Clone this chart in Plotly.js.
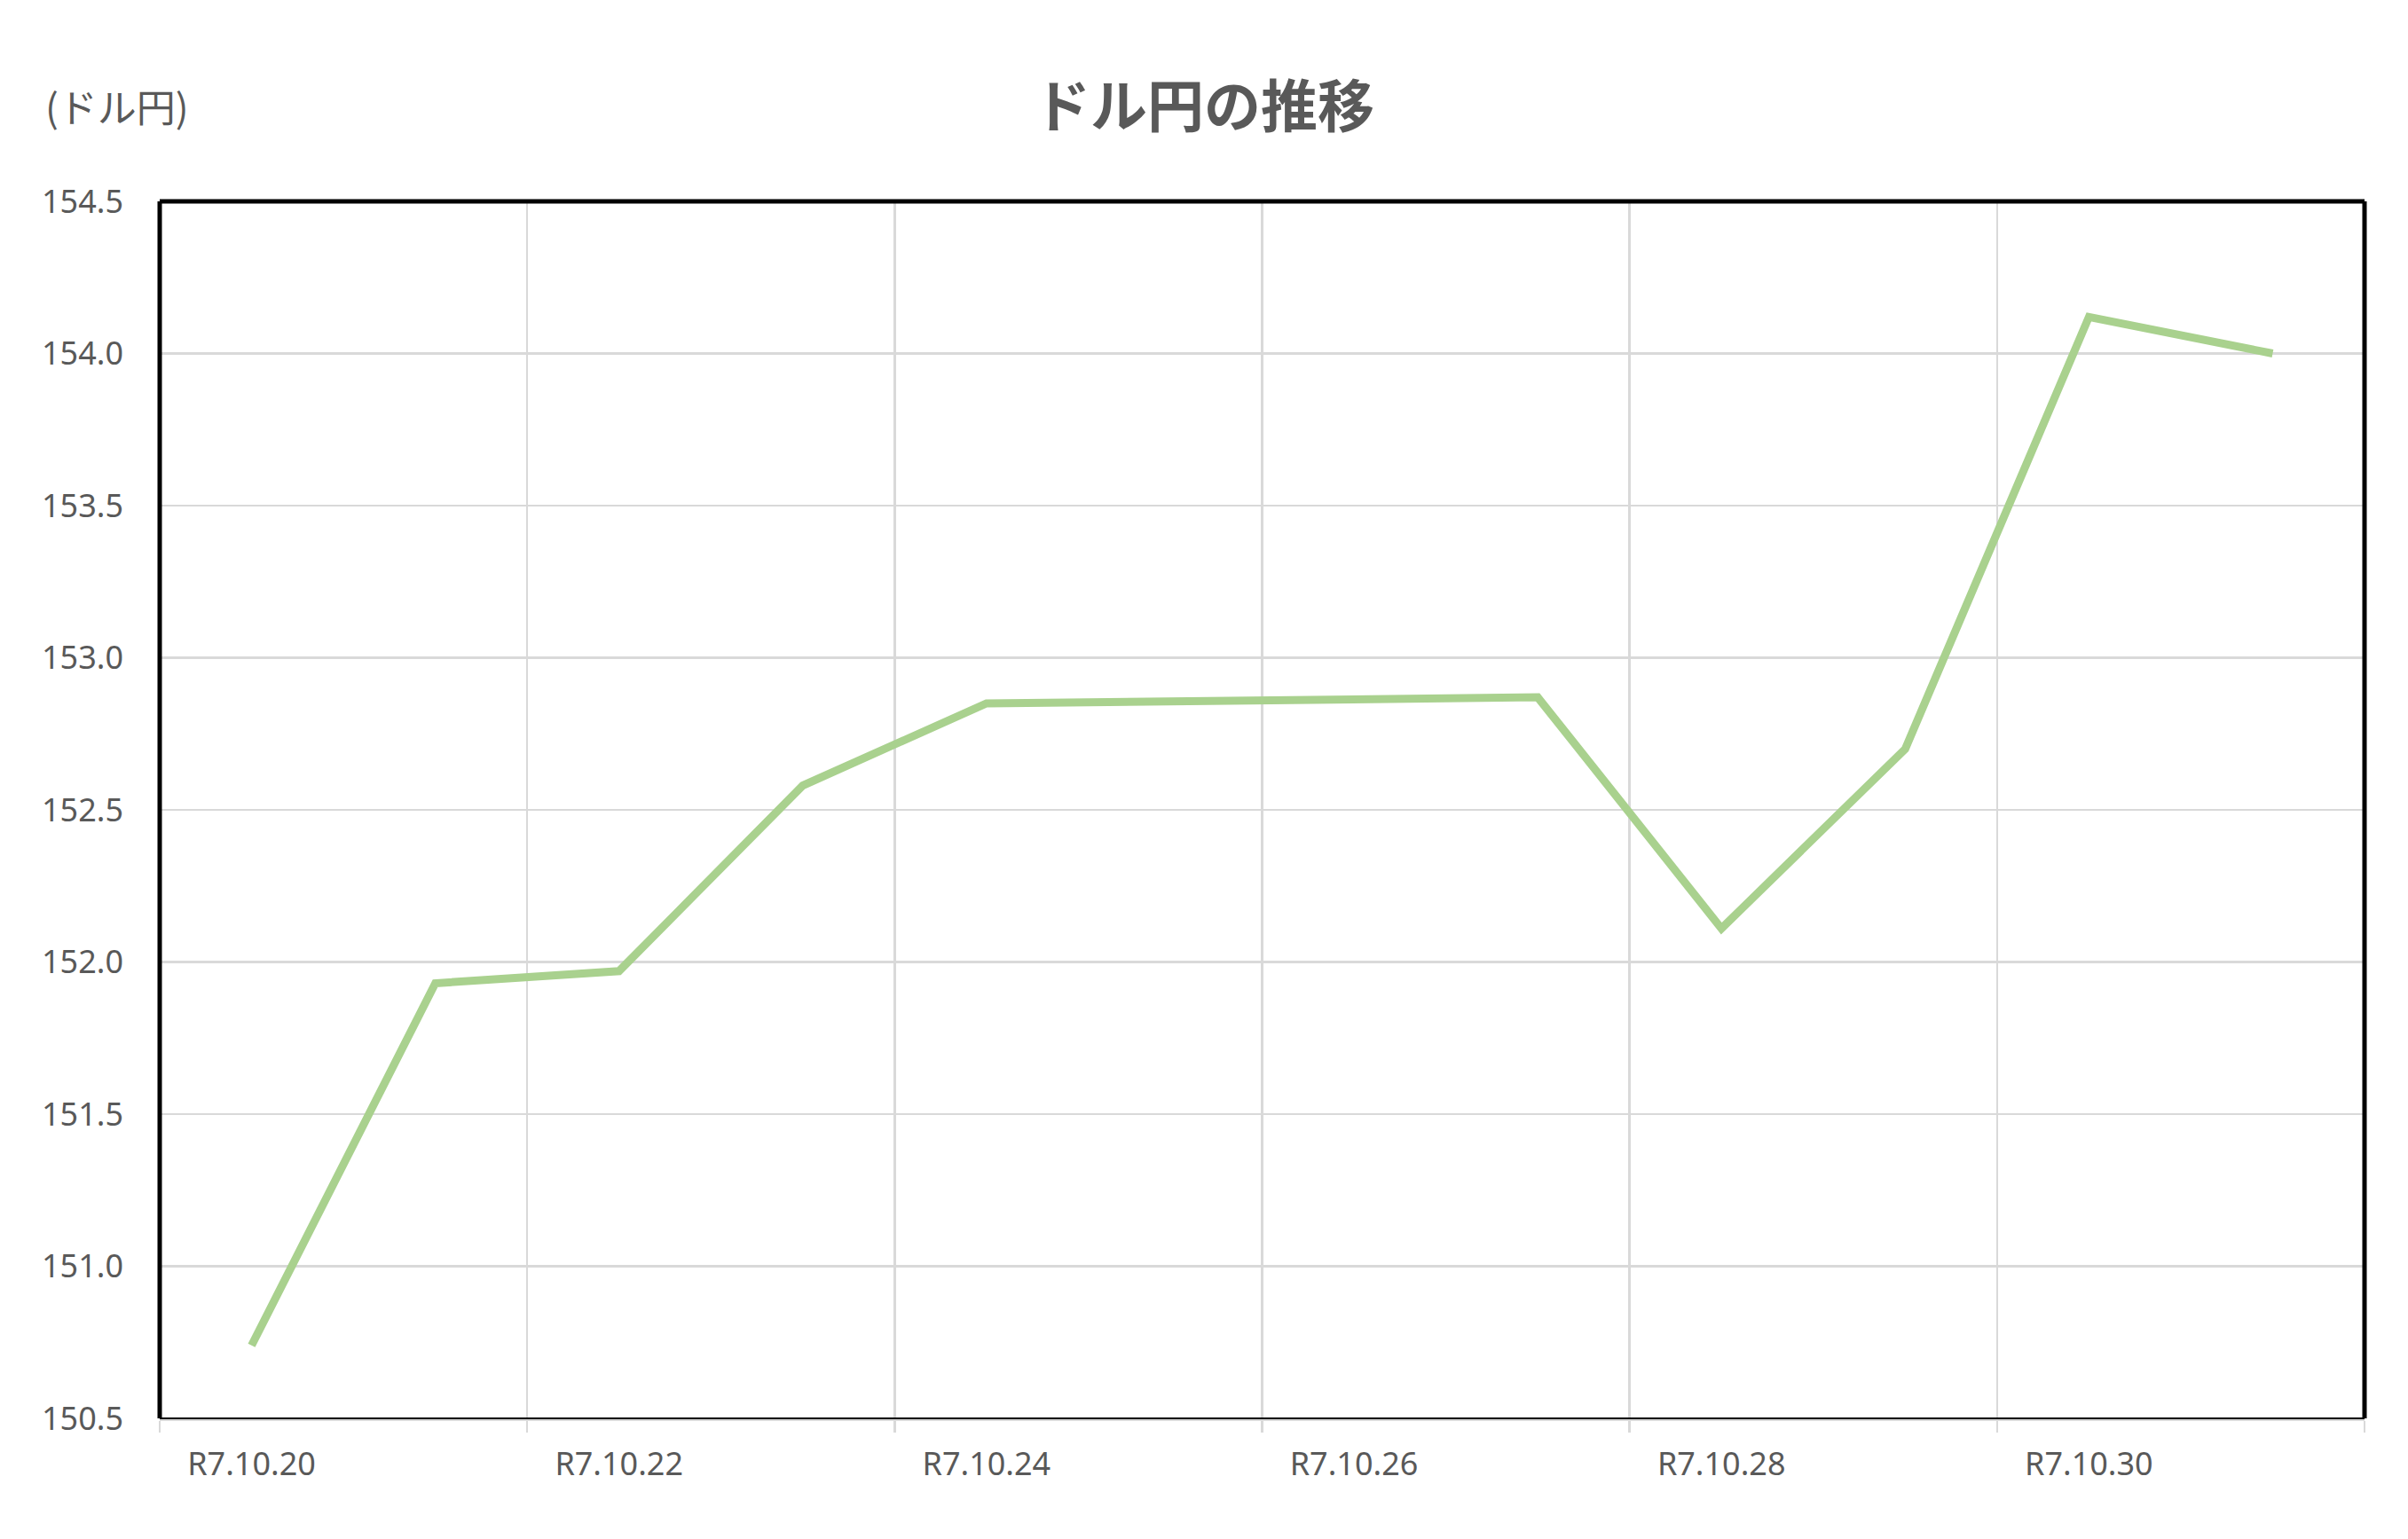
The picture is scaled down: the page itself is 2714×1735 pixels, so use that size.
<!DOCTYPE html>
<html>
<head>
<meta charset="utf-8">
<script src="https://cdn.plot.ly/plotly-3.0.1.min.js"></script>
<style>
  html, body { margin: 0; padding: 0; background: #fff; }
  #chart { width: 2714px; height: 1735px; }
</style>
</head>
<body>
<div id="chart"></div>
<script>
// ドル円 daily rates, R7.10.20 - R7.10.31 (weekend left empty)
const dates = ['R7.10.20', 'R7.10.21', 'R7.10.22', 'R7.10.23', 'R7.10.24', 'R7.10.25',
               'R7.10.26', 'R7.10.27', 'R7.10.28', 'R7.10.29', 'R7.10.30', 'R7.10.31'];
const rates = [150.74, 151.93, 151.97, 152.58, 152.85, null,
               null, 152.87, 152.11, 152.70, 154.12, 154.00];
const yTicks = [150.5, 151.0, 151.5, 152.0, 152.5, 153.0, 153.5, 154.0, 154.5];

const W = 2714, H = 1735;
const M = {l: 180, r: 49, t: 227, b: 136};
const plotW = W - M.l - M.r;

// labels every other day, grid on the boundaries between categories
const idx = dates.map((d, i) => i);
const labelVals = idx.filter(i => i % 2 === 0);
const labelText = labelVals.map(i => dates[i]);
const bounds = [];
for (let i = 0; i <= dates.length; i += 2) bounds.push(i - 0.5);

const grey = '#595959';
const gridCol = '#d9d9d9';
const numFont = {family: '"Noto Sans", sans-serif', size: 36, color: grey};

const trace = {
  x: idx,
  y: rates,
  type: 'scatter',
  mode: 'lines',
  connectgaps: true,
  line: {color: '#a9d18e', width: 9},
  hoverinfo: 'skip'
};

const layout = {
  width: W,
  height: H,
  margin: M,
  paper_bgcolor: '#fff',
  plot_bgcolor: '#fff',
  showlegend: false,
  title: {
    text: 'ドル円の推移',
    font: {family: '"Noto Sans CJK JP", sans-serif', size: 64, color: grey, weight: 'bold'},
    x: 0.5, xref: 'container', xanchor: 'center',
    y: 1 - 121 / H, yref: 'container', yanchor: 'middle'
  },
  xaxis: {
    range: [-0.5, dates.length - 0.5],
    tickmode: 'array',
    tickvals: labelVals,
    ticktext: labelText,
    ticks: '',
    showgrid: false,
    minor: {
      tickmode: 'array',
      tickvals: bounds,
      ticks: 'outside',
      ticklen: 13,
      tickwidth: 2.5,
      tickcolor: gridCol,
      showgrid: true,
      gridcolor: gridCol,
      gridwidth: 2.5
    },
    ticklabelstandoff: 18,
    showline: true,
    linecolor: gridCol,
    linewidth: 2.5,
    zeroline: false,
    fixedrange: true,
    tickfont: numFont
  },
  yaxis: {
    range: [150.5, 154.5],
    tickmode: 'array',
    tickvals: yTicks,
    tickformat: '.1f',
    ticks: '',
    ticklabelstandoff: 40,
    showgrid: true,
    gridcolor: gridCol,
    gridwidth: 2.5,
    showline: false,
    zeroline: false,
    fixedrange: true,
    tickfont: numFont
  },
  shapes: [
    {type: 'line', xref: 'paper', yref: 'paper', x0: 0, x1: 1, y0: 1, y1: 1, line: {color: '#000', width: 5}},
    {type: 'line', xref: 'paper', yref: 'paper', x0: 0, x1: 0, y0: 0, y1: 1, line: {color: '#000', width: 5}},
    {type: 'line', xref: 'paper', yref: 'paper', x0: 1, x1: 1, y0: 0, y1: 1, line: {color: '#000', width: 5}},
    {type: 'line', xref: 'paper', yref: 'paper', x0: 0, x1: 1, y0: 0, y1: 0, line: {color: '#000', width: 2}}
  ],
  annotations: [{
    text: '(ドル円)',
    xref: 'paper', yref: 'paper',
    x: (49 - M.l) / plotW, xanchor: 'left',
    y: (H - M.b - 119) / (H - M.t - M.b), yanchor: 'middle',
    showarrow: false,
    font: {family: '"Noto Sans CJK JP", sans-serif', size: 44, color: grey}
  }]
};

Plotly.newPlot('chart', [trace], layout, {staticPlot: true, displayModeBar: false});
</script>
</body>
</html>
